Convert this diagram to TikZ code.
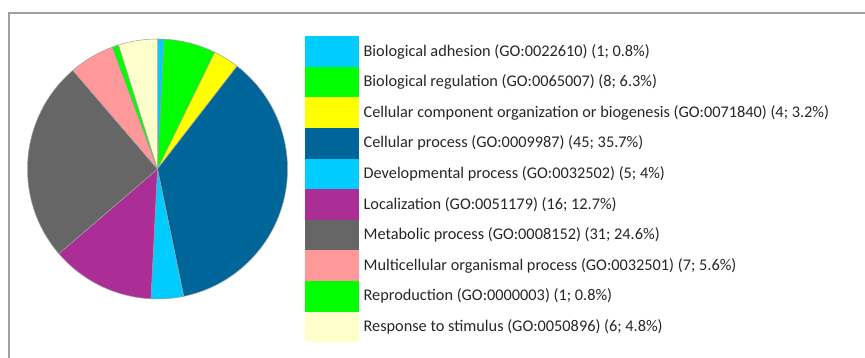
\documentclass[tikz,border=0pt]{standalone}
\usepackage{fontspec}
\setmainfont{Carlito}
\usepackage{tikz}
\usetikzlibrary{positioning}
\definecolor{adhesion}{RGB}{0, 204, 255}
\definecolor{regulation}{RGB}{0, 255, 0}
\definecolor{component}{RGB}{255, 255, 0}
\definecolor{cellular}{RGB}{0, 102, 153}
\definecolor{develop}{RGB}{0, 204, 255}
\definecolor{local}{RGB}{170, 46, 150}
\definecolor{metabolic}{RGB}{102, 102, 102}
\definecolor{multi}{RGB}{255, 153, 153}
\definecolor{reprod}{RGB}{0, 255, 0}
\definecolor{response}{RGB}{255, 255, 204}
\definecolor{edge}{RGB}{160, 160, 160}
\definecolor{frame}{RGB}{160, 160, 160}

\begin{document}
\begin{tikzpicture}[x=1pt, y=1pt,
  legbox/.style={minimum width=54pt, minimum height=30.6pt, inner sep=0pt, anchor=north west},
  legtext/.style={inner sep=0pt, anchor=west, text=black!85, font=\fontsize{16.3}{19}\selectfont}]
  \useasboundingbox (0, 0) rectangle (865, 358);

  % Frame
  \draw [color=frame, line width=1.5pt] (9, 0) -- (9, 345) -- (865, 345);

  % Pie (124 genes, clockwise from the top)
  \coordinate (c) at (157.5, 189);
  \foreach \a/\b/\col in {0/1/adhesion, 1/9/regulation, 9/13/component, 13/58/cellular,
      58/63/develop, 63/79/local, 79/110/metabolic, 110/117/multi, 117/118/reprod, 118/124/response} {
    \filldraw[fill=\col, draw=edge, line width=0.5pt] (c) -- ++({90 - \a / 124 * 360}:130)
      arc[start angle={90 - \a / 124 * 360}, end angle={90 - \b / 124 * 360}, radius=130] -- cycle;
  }

  % Legend
  \foreach \i/\col/\txt in {0/adhesion/Biological adhesion (GO:0022610) (1; 0.8\%),
      1/regulation/Biological regulation (GO:0065007) (8; 6.3\%),
      2/component/Cellular component organization or biogenesis (GO:0071840) (4; 3.2\%),
      3/cellular/Cellular process (GO:0009987) (45; 35.7\%),
      4/develop/Developmental process (GO:0032502) (5; 4\%),
      5/local/Localization (GO:0051179) (16; 12.7\%),
      6/metabolic/Metabolic process (GO:0008152) (31; 24.6\%),
      7/multi/Multicellular organismal process (GO:0032501) (7; 5.6\%),
      8/reprod/Reproduction (GO:0000003) (1; 0.8\%),
      9/response/Response to stimulus (GO:0050896) (6; 4.8\%)} {
    \node[legbox, fill=\col] (box\i) at (305, {322 - 30.6 * \i}) {};
    \node[legtext, right=4pt of box\i] (txt\i) {\txt};
  }

\end{tikzpicture}
\end{document}
